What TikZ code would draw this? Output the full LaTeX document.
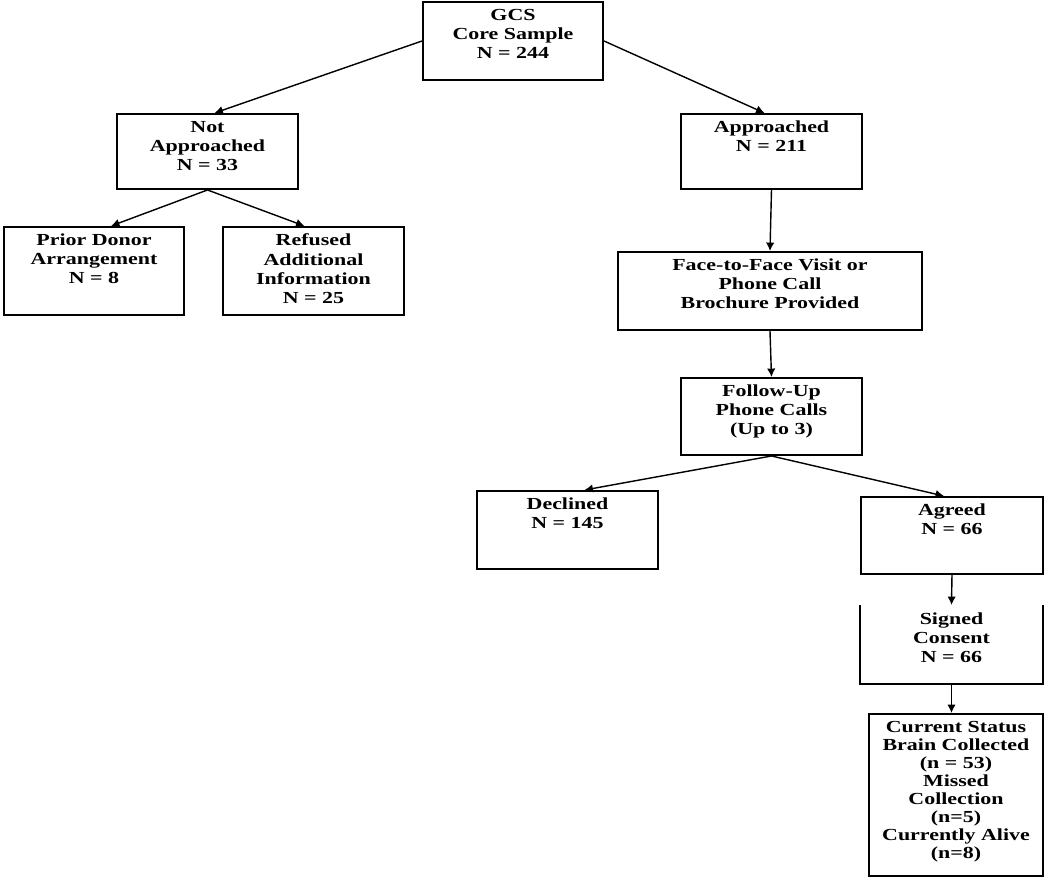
\documentclass[tikz,border=0pt]{standalone}
\usepackage{fontspec}
\newfontfamily\boxfont{Liberation Serif}[FakeStretch=1.3]
\usetikzlibrary{arrows.meta,calc}
\newlength\px
\setlength\px{0.025cm}
\newcommand{\boxtext}[3]{\parbox[t][#2\px][t]{#1\px}{\centering\vspace*{5pt}#3}}

\begin{document}
\begin{tikzpicture}[x=0.025cm,y=-0.025cm,
  fbox/.style={draw,line width=1.4pt,anchor=north west,inner sep=0pt,
    font=\boxfont\bfseries\fontsize{12}{13.6}\selectfont},
  link/.style={line width=1pt,-{Latex[length=6pt,width=6pt]}}]
\useasboundingbox (0,0) rectangle (1050,877);

\node[fbox] (gcs) at (422,1) {\boxtext{180}{78}{GCS\\Core Sample\\N = 244}};
\node[fbox] (na) at (116,113) {\boxtext{181}{75}{Not\\Approached\\N = 33}};
\node[fbox] (pd) at (3,226) {\boxtext{180}{88}{Prior Donor\\Arrangement\\N = 8}};
\node[fbox] (ref) at (222,226) {\boxtext{181}{88}{Refused\\Additional\\Information\\N = 25}};
\node[fbox] (app) at (680,113) {\boxtext{181}{75}{Approached\\N = 211}};
\node[fbox] (face) at (617,251) {\boxtext{304}{78}{Face-to-Face Visit or\\Phone Call\\Brochure Provided}};
\node[fbox] (fu) at (680,377) {\boxtext{181}{77}{Follow-Up\\Phone Calls\\(Up to 3)}};
\node[fbox] (dec) at (476,490) {\boxtext{181}{78}{Declined\\N = 145}};
\node[fbox] (agr) at (860,496) {\boxtext{182}{77}{Agreed\\N = 66}};
\node[fbox,draw=none] (sc) at (860,605) {\boxtext{181}{77}{Signed\\Consent\\N = 66}};
\draw[line width=1.4pt] (sc.north west) -- (sc.south west) -- (sc.south east) -- (sc.north east);
\node[fbox] (cs) at (868,713)
  {\boxtext{174}{162}{\fontsize{12}{12.8}\selectfont Current Status\\Brain Collected\\(n = 53)\\Missed\\Collection\\(n=5)\\Currently Alive\\(n=8)}};

\draw[link] (gcs.west) -- ($(na.north)+(7,0)$);
\draw[link] (gcs.east) -- ($(app.north)+(-7,0)$);
\draw[link] (na.south) -- ($(pd.north)+(17,0)$);
\draw[link] (na.south) -- ($(ref.north)+(-9,0)$);
\draw[link] (app.south) -- (face.north);
\draw[link] (face.south) -- (fu.north);
\draw[link] (fu.south) -- ($(dec.north)+(17,0)$);
\draw[link] (fu.south) -- ($(agr.north)+(-8,0)$);
\draw[link] (agr.south) -- (sc.north);
\draw[link] (sc.south) -- (sc.south |- cs.north);

\end{tikzpicture}
\end{document}
